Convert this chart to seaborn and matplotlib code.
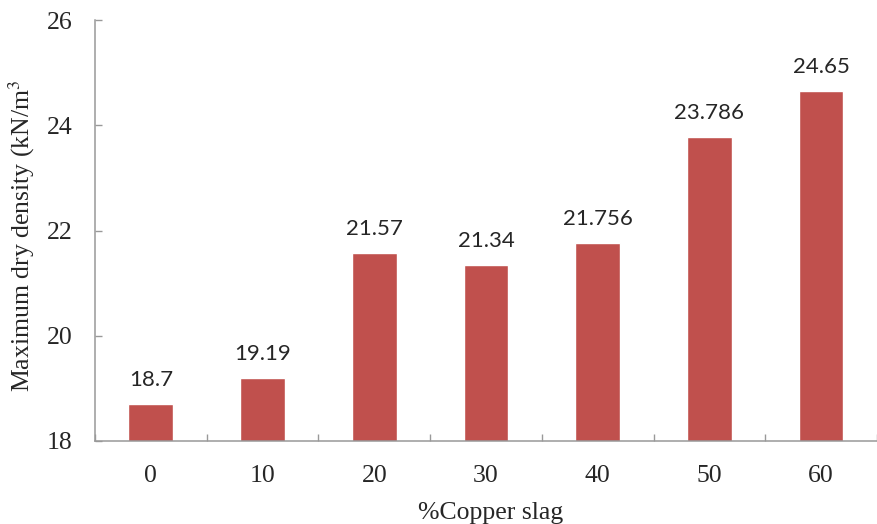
"""Maximum dry density vs copper slag content bar chart."""

import matplotlib

matplotlib.use("Agg")

import matplotlib.pyplot as plt
import numpy as np
import pandas as pd
import seaborn as sns

copper_slag = ["0", "10", "20", "30", "40", "50", "60"]
dry_density = [18.7, 19.19, 21.57, 21.34, 21.756, 23.786, 24.65]
value_labels = ["18.7", "19.19", "21.57", "21.34", "21.756", "23.786", "24.65"]
y_ticks = [18, 20, 22, 24, 26]

sns.set_theme(style="white")
plt.rcParams["font.family"] = ["Liberation Serif", "DejaVu Serif"]
plt.rcParams["mathtext.fontset"] = "stix"

df = pd.DataFrame({"slag": copper_slag, "density": dry_density})

fig = plt.figure(figsize=(8.77, 5.24), dpi=100)
ax = fig.add_axes([0.1083, 0.1584, 0.8917, 0.8034])

sns.barplot(data=df, x="slag", y="density", color="#C0504D", saturation=1,
            width=0.4, ax=ax)

ax.set_ylim(18, 26)
ax.set_xlim(-0.5, 6.5)
ax.set_yticks(y_ticks)
ax.set_xlabel("")
ax.set_ylabel("")

grey = "#999999"
for side in ["top", "right"]:
    ax.spines[side].set_visible(False)
for side in ["left", "bottom"]:
    ax.spines[side].set_color(grey)
    ax.spines[side].set_linewidth(1.1)

ax.tick_params(axis="y", direction="in", length=5, width=1, color=grey,
               labelsize=18.5, pad=16, left=True)
ax.tick_params(axis="x", which="major", length=0, labelsize=18.5, pad=17)
ax.set_xticks(np.arange(-0.5, 7, 1), minor=True)
ax.tick_params(axis="x", which="minor", direction="in", length=5, width=1,
               color=grey, bottom=True)

ax.bar_label(ax.containers[0], labels=value_labels, padding=10,
             fontsize=16, family=["Lato", "DejaVu Sans"])

# the original label is cut short after the unit
fig.text(0.025, 0.252, "Maximum dry density (kN/m$^3$", rotation=90,
         ha="center", va="bottom", fontsize=18.5)
fig.text(0.559, 0.0095, "%Copper slag", ha="center", va="baseline",
         fontsize=18.5)

fig.savefig("out.png", dpi=100)
plt.close(fig)
